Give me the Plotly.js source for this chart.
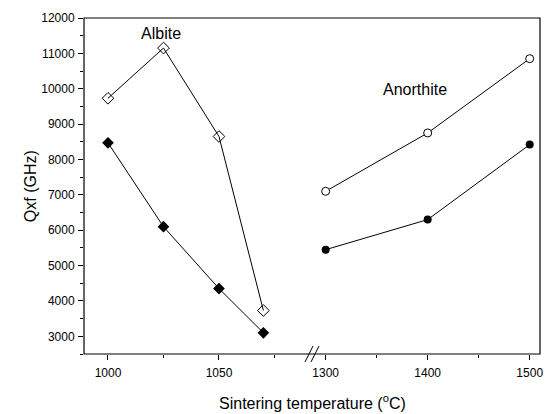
<!DOCTYPE html>
<html>
<head>
<meta charset="utf-8">
<script src="https://cdn.plot.ly/plotly-3.0.1.min.js"></script>
<style>html,body{margin:0;padding:0;background:#fff;}#chart{width:547px;height:414px;}</style>
</head>
<body>
<div id="chart"></div>
<script>
// Albite (left segment)
const albiteTemp = [1000, 1025, 1050, 1070];
const albiteOpen = [9730, 11150, 8650, 3730];
const albiteFilled = [8470, 6100, 4350, 3100];
// Anorthite (right segment)
const anorthiteTemp = [1300, 1400, 1500];
const anorthiteOpen = [7100, 8750, 10850];
const anorthiteFilled = [5450, 6300, 8420];
// tick labels
const leftTicks = [1000, 1050];
const rightTicks = [1300, 1400, 1500];
const yTicks = [3000, 4000, 5000, 6000, 7000, 8000, 9000, 10000, 11000, 12000];

const fam = 'Liberation Sans, Arial, sans-serif';
const font = {family: fam, color: '#000', size: 12};
const bigFont = {family: fam, color: '#000', size: 16};
const lineStyle = {color: '#000', width: 1};

const traces = [
  {x: albiteTemp, y: albiteOpen, xaxis: 'x', yaxis: 'y', mode: 'lines+markers', line: lineStyle,
   marker: {symbol: 'diamond-open', size: 9, color: '#000', line: {width: 1, color: '#000'}}},
  {x: albiteTemp, y: albiteFilled, xaxis: 'x', yaxis: 'y', mode: 'lines+markers', line: lineStyle,
   marker: {symbol: 'diamond', size: 9, color: '#000'}},
  {x: anorthiteTemp, y: anorthiteOpen, xaxis: 'x2', yaxis: 'y', mode: 'lines+markers', line: lineStyle,
   marker: {symbol: 'circle', size: 8, color: '#fff', line: {width: 1, color: '#000'}}},
  {x: anorthiteTemp, y: anorthiteFilled, xaxis: 'x2', yaxis: 'y', mode: 'lines+markers', line: lineStyle,
   marker: {symbol: 'circle', size: 8, color: '#000'}}
];

const axCommon = {
  showgrid: false, zeroline: false, showline: false,
  ticks: 'outside', ticklen: 5, tickwidth: 1, tickcolor: '#000',
  tickfont: font
};

const layout = {
  width: 547, height: 414,
  margin: {l: 84, r: 7, t: 18, b: 60},
  paper_bgcolor: '#fff', plot_bgcolor: '#fff',
  showlegend: false,
  font: font,
  xaxis: Object.assign({}, axCommon, {
    domain: [0, 0.5], range: [989.2, 1091.9], anchor: 'y', ticklabelstandoff: 3,
    tickvals: leftTicks, ticktext: leftTicks.map(String),
    minor: {dtick: 25, tick0: 1000, ticks: 'outside', ticklen: 3, tickcolor: '#000', showgrid: false}
  }),
  xaxis2: Object.assign({}, axCommon, {
    domain: [0.5, 1], range: [1286.6, 1510.1], anchor: 'y', ticklabelstandoff: 3,
    tickvals: rightTicks, ticktext: rightTicks.map(String),
    minor: {dtick: 50, tick0: 1300, ticks: 'outside', ticklen: 3, tickcolor: '#000', showgrid: false}
  }),
  yaxis: Object.assign({}, axCommon, {
    range: [2500, 12000], anchor: 'x', ticklabelstandoff: 1,
    tickvals: yTicks, ticktext: yTicks.map(String),
    minor: {dtick: 500, tick0: 0, ticks: 'outside', ticklen: 3, tickcolor: '#000', showgrid: false}
  }),
  shapes: [
    {type: 'rect', xref: 'paper', yref: 'paper', x0: 0, x1: 1, y0: 0, y1: 1,
     line: {color: '#000', width: 1.2}, fillcolor: 'rgba(0,0,0,0)', layer: 'above'},
    {type: 'line', xref: 'paper', yref: 'paper', xsizemode: 'pixel', ysizemode: 'pixel',
     xanchor: 0.5, yanchor: 0, x0: -7, x1: 1, y0: -8, y1: 8, line: {color: '#000', width: 1}},
    {type: 'line', xref: 'paper', yref: 'paper', xsizemode: 'pixel', ysizemode: 'pixel',
     xanchor: 0.5, yanchor: 0, x0: -1, x1: 7, y0: -8, y1: 8, line: {color: '#000', width: 1}}
  ],
  annotations: [
    {text: 'Albite', x: 1024, y: 11560, xref: 'x', yref: 'y', showarrow: false, font: bigFont},
    {text: 'Anorthite', x: 1388, y: 9980, xref: 'x2', yref: 'y', showarrow: false, font: bigFont},
    {text: 'Sintering temperature (<sup>o</sup>C)', x: 0.5, y: -0.143, xref: 'paper', yref: 'paper',
     yanchor: 'middle', showarrow: false, font: bigFont},
    {text: 'Qxf (GHz)', x: -0.118, y: 0.5, xref: 'paper', yref: 'paper', textangle: -90,
     xanchor: 'center', yanchor: 'middle', showarrow: false, font: bigFont}
  ]
};

Plotly.newPlot('chart', traces, layout, {displayModeBar: false, staticPlot: true});
</script>
</body>
</html>
